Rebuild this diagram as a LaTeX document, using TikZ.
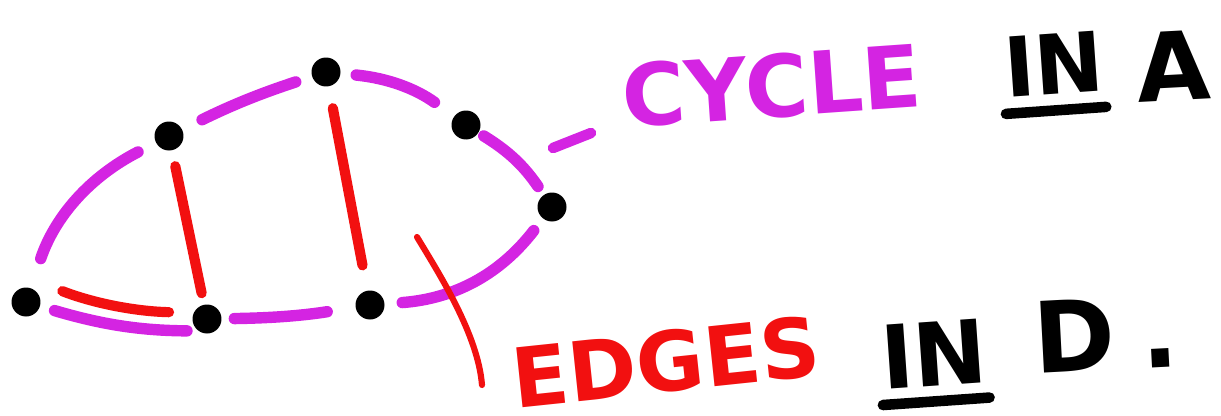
\documentclass[tikz,border=0pt]{standalone}
\usepackage{fontspec}
\setmainfont{DejaVu Sans}
\usetikzlibrary{positioning}

\definecolor{cycpurple}{RGB}{212,36,226}
\definecolor{edgered}{RGB}{242,16,16}

\tikzset{
  vtx/.style={circle,fill=black,minimum size=0.58cm,inner sep=0pt},
  edgegap/.style 2 args={shorten <=#1,shorten >=#2},
  cyc/.style={draw=cycpurple,line width=6.5pt,line cap=round},
  dedge/.style={draw=edgered,line width=5.8pt,line cap=round},
  word/.style={font=\bfseries\fontsize{#1}{#1}\selectfont,inner sep=0pt},
  word/.default=50
}

\begin{document}
\begin{tikzpicture}[x=0.02cm,y=-0.02cm]
  \useasboundingbox (0,0) rectangle (1221,416);

  % vertices
  \node[vtx] (v1) at (26,302) {};
  \node[vtx] (v2) at (169,136) {};
  \node[vtx] (v3) at (326,72) {};
  \node[vtx] (v4) at (466,125) {};
  \node[vtx] (v5) at (552,207) {};
  \node[vtx] (v6) at (370,305) {};
  \node[vtx] (v7) at (207,319) {};

  % the cycle
  \draw[cyc,edgegap={0.62cm}{0.4cm}] (v1) to[bend left=22] (v2);
  \draw[cyc,edgegap={0.44cm}{0.34cm}] (v2) to[bend left=4] (v3);
  \draw[cyc,edgegap={0.31cm}{0.48cm}] (v3) to[bend left=15] (v4);
  \draw[cyc,edgegap={0.12cm}{0.2cm}] (v4) to[bend left=12] (v5);
  \draw[cyc,edgegap={0.3cm}{0.35cm}] (v5) to[bend left=24] (v6);
  \draw[cyc,edgegap={0.57cm}{0.25cm}] (v6) to[bend left=4] (v7);
  \draw[cyc,edgegap={0.4cm}{0.3cm}] ([yshift=-0.24cm]v7.center) to[bend left=8] (v1);

  % the other edges
  \draw[dedge,edgegap={0.32cm}{0.23cm}] (v2) -- (v7);
  \draw[dedge,edgegap={0.44cm}{0.51cm}] (v3) -- (v6);
  \draw[dedge,edgegap={0.78cm}{0.76cm}] ([yshift=0.5cm]v1.center) to[bend right=10] ([yshift=0.12cm]v7.center);

  % labels
  \node[word=49,text=cycpurple,rotate=4] (cyc) at (772,86) {CYCLE};
  \node[word=47,rotate=4] (in1) at (1054,64) {IN};
  \node[word=54,rotate=3] (a) at (1173,66) {A};
  \draw[line width=6pt,line cap=round] ([yshift=-0.32cm]in1.south west) -- ([yshift=-0.32cm]in1.south east);

  \node[word=47,text=edgered,rotate=6] (edg) at (666,362) {EDGES};
  \node[word=50,rotate=4] (in2) at (934,354) {IN};
  \node[word=56,rotate=3] (d) at (1106,334) {D\hspace{0.5cm}.};
  \draw[line width=6pt,line cap=round] ([yshift=-0.3cm]in2.south west) -- ([yshift=-0.3cm]in2.south east);

  % pointers
  \coordinate (p1) at (553,148);
  \coordinate (p2) at (591,133);
  \draw[cycpurple,line width=6pt,line cap=round] (p1) -- (p2);
  \coordinate (q1) at (417,237);
  \coordinate (q2) at (482,385);
  \draw[edgered,line width=3.5pt,line cap=round] (q1) .. controls (440,275) and (478,335) .. (q2);
\end{tikzpicture}
\end{document}
